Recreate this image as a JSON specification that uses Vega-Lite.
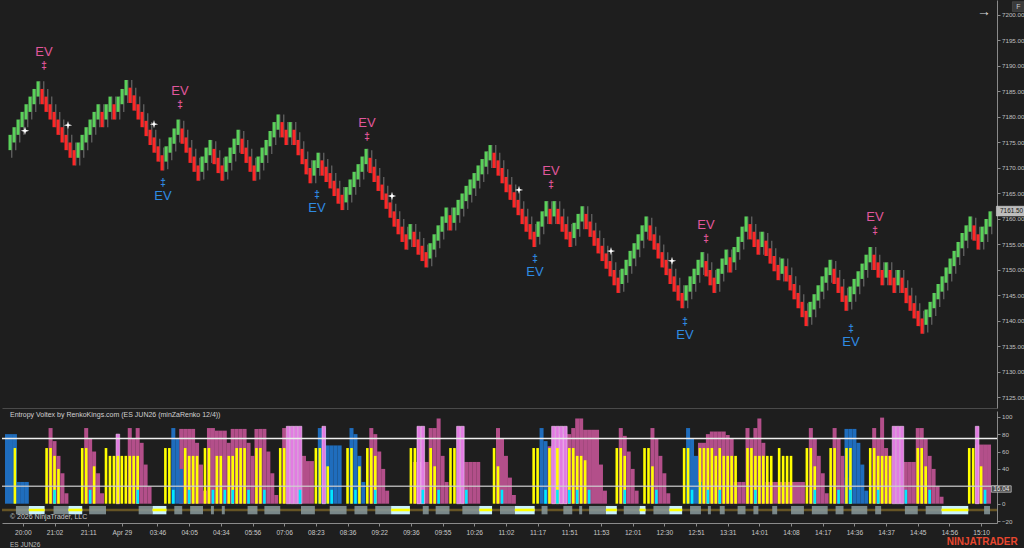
{
"$schema":"https://vega.github.io/schema/vega-lite/v6.json",
"background":"#1e1e1e",
"padding":0,
"spacing":2,
"config":{"view":{"stroke":null},"axis":{"labelFont":"Liberation Sans","grid":false,"labelOverlap":false,"labelBound":false},"text":{"font":"Liberation Sans"}},
"datasets":{
"renko":[
{"i":-2,"m":7175,"d":"u"},{"i":-1,"m":7176.5,"d":"u"},{"i":0,"m":7178,"d":"u"},{"i":1,"m":7179.5,"d":"u"},{"i":2,"m":7181,"d":"u"},{"i":3,"m":7182.5,"d":"u"},{"i":4,"m":7184,"d":"u"},{"i":5,"m":7185.5,"d":"u"},
{"i":6,"m":7184,"d":"d"},{"i":7,"m":7182.5,"d":"d"},{"i":8,"m":7181,"d":"d"},{"i":9,"m":7179.5,"d":"d"},{"i":10,"m":7178,"d":"d"},{"i":11,"m":7176.5,"d":"d"},{"i":12,"m":7175,"d":"d"},{"i":13,"m":7173.5,"d":"d"},{"i":14,"m":7172,"d":"d"},
{"i":15,"m":7173.5,"d":"u"},{"i":16,"m":7175,"d":"u"},{"i":17,"m":7176.5,"d":"u"},{"i":18,"m":7178,"d":"u"},{"i":19,"m":7179.5,"d":"u"},{"i":20,"m":7181,"d":"u"},{"i":21,"m":7179.5,"d":"d"},{"i":22,"m":7181,"d":"u"},{"i":23,"m":7182.5,"d":"u"},{"i":24,"m":7181,"d":"d"},{"i":25,"m":7182.5,"d":"u"},{"i":26,"m":7184,"d":"u"},{"i":27,"m":7185.75,"d":"u"},
{"i":28,"m":7184.25,"d":"d"},{"i":29,"m":7182.75,"d":"d"},{"i":30,"m":7181,"d":"d"},{"i":31,"m":7179.5,"d":"d"},{"i":32,"m":7177.75,"d":"d"},{"i":33,"m":7176,"d":"d"},{"i":34,"m":7174.5,"d":"d"},{"i":35,"m":7172.75,"d":"d"},{"i":36,"m":7171,"d":"d"},
{"i":37,"m":7172.75,"d":"u"},{"i":38,"m":7174.5,"d":"u"},{"i":39,"m":7176.25,"d":"u"},{"i":40,"m":7178,"d":"u"},
{"i":41,"m":7176.25,"d":"d"},{"i":42,"m":7174.5,"d":"d"},{"i":43,"m":7172.5,"d":"d"},{"i":44,"m":7170.75,"d":"d"},{"i":45,"m":7169,"d":"d"},
{"i":46,"m":7170.75,"d":"u"},{"i":47,"m":7172.5,"d":"u"},{"i":48,"m":7174,"d":"u"},
{"i":49,"m":7172.25,"d":"d"},{"i":50,"m":7170.5,"d":"d"},{"i":51,"m":7169,"d":"d"},
{"i":52,"m":7170.75,"d":"u"},{"i":53,"m":7172.5,"d":"u"},{"i":54,"m":7174.25,"d":"u"},{"i":55,"m":7176,"d":"u"},
{"i":56,"m":7174.25,"d":"d"},{"i":57,"m":7172.5,"d":"d"},{"i":58,"m":7170.75,"d":"d"},{"i":59,"m":7169,"d":"d"},
{"i":60,"m":7170.75,"d":"u"},{"i":61,"m":7172.5,"d":"u"},{"i":62,"m":7174,"d":"u"},{"i":63,"m":7175.75,"d":"u"},{"i":64,"m":7177.5,"d":"u"},{"i":65,"m":7179,"d":"u"},
{"i":66,"m":7177.5,"d":"d"},{"i":67,"m":7176,"d":"d"},{"i":68,"m":7177.5,"d":"u"},{"i":69,"m":7176,"d":"d"},{"i":70,"m":7174,"d":"d"},{"i":71,"m":7172.25,"d":"d"},{"i":72,"m":7170.25,"d":"d"},{"i":73,"m":7168.5,"d":"d"},
{"i":74,"m":7170,"d":"u"},{"i":75,"m":7171.5,"d":"u"},
{"i":76,"m":7170,"d":"d"},{"i":77,"m":7168.75,"d":"d"},{"i":78,"m":7167.5,"d":"d"},{"i":79,"m":7166,"d":"d"},{"i":80,"m":7164.5,"d":"d"},{"i":81,"m":7163.25,"d":"d"},
{"i":82,"m":7164.75,"d":"u"},{"i":83,"m":7166.25,"d":"u"},{"i":84,"m":7167.75,"d":"u"},{"i":85,"m":7169.25,"d":"u"},{"i":86,"m":7170.75,"d":"u"},{"i":87,"m":7172.25,"d":"u"},
{"i":88,"m":7170.5,"d":"d"},{"i":89,"m":7168.75,"d":"d"},{"i":90,"m":7167,"d":"d"},{"i":91,"m":7165.25,"d":"d"},{"i":92,"m":7163.5,"d":"d"},{"i":93,"m":7161.75,"d":"d"},{"i":94,"m":7160,"d":"d"},{"i":95,"m":7158.5,"d":"d"},{"i":96,"m":7157,"d":"d"},{"i":97,"m":7155.5,"d":"d"},
{"i":98,"m":7157.5,"d":"u"},{"i":99,"m":7156,"d":"d"},{"i":100,"m":7154.5,"d":"d"},{"i":101,"m":7153.25,"d":"d"},{"i":102,"m":7152,"d":"d"},
{"i":103,"m":7153.75,"d":"u"},{"i":104,"m":7155.5,"d":"u"},{"i":105,"m":7157.25,"d":"u"},{"i":106,"m":7159,"d":"u"},{"i":107,"m":7160.75,"d":"u"},{"i":108,"m":7159.25,"d":"d"},
{"i":109,"m":7160.75,"d":"u"},{"i":110,"m":7162.25,"d":"u"},{"i":111,"m":7163.5,"d":"u"},{"i":112,"m":7165,"d":"u"},{"i":113,"m":7166.25,"d":"u"},{"i":114,"m":7167.5,"d":"u"},{"i":115,"m":7169,"d":"u"},{"i":116,"m":7170.25,"d":"u"},{"i":117,"m":7171.75,"d":"u"},{"i":118,"m":7173,"d":"u"},
{"i":119,"m":7171.5,"d":"d"},{"i":120,"m":7170,"d":"d"},{"i":121,"m":7168.5,"d":"d"},{"i":122,"m":7166.75,"d":"d"},{"i":123,"m":7165.25,"d":"d"},{"i":124,"m":7163.75,"d":"d"},{"i":125,"m":7162.25,"d":"d"},{"i":126,"m":7160.5,"d":"d"},{"i":127,"m":7159,"d":"d"},{"i":128,"m":7157.5,"d":"d"},{"i":129,"m":7156,"d":"d"},
{"i":130,"m":7158,"d":"u"},{"i":131,"m":7160,"d":"u"},{"i":132,"m":7162,"d":"u"},{"i":133,"m":7160.5,"d":"d"},{"i":134,"m":7162,"d":"u"},{"i":135,"m":7160.5,"d":"d"},{"i":136,"m":7159,"d":"d"},{"i":137,"m":7157.5,"d":"d"},{"i":138,"m":7156,"d":"d"},
{"i":139,"m":7157.75,"d":"u"},{"i":140,"m":7159.5,"d":"u"},{"i":141,"m":7161,"d":"u"},
{"i":142,"m":7159.5,"d":"d"},{"i":143,"m":7158,"d":"d"},{"i":144,"m":7156.25,"d":"d"},{"i":145,"m":7154.75,"d":"d"},{"i":146,"m":7153.25,"d":"d"},{"i":147,"m":7151.75,"d":"d"},{"i":148,"m":7150.25,"d":"d"},{"i":149,"m":7148.5,"d":"d"},{"i":150,"m":7147,"d":"d"},
{"i":151,"m":7148.75,"d":"u"},{"i":152,"m":7150.5,"d":"u"},{"i":153,"m":7152.25,"d":"u"},{"i":154,"m":7153.75,"d":"u"},{"i":155,"m":7155.5,"d":"u"},{"i":156,"m":7157.25,"d":"u"},{"i":157,"m":7159,"d":"u"},
{"i":158,"m":7157.25,"d":"d"},{"i":159,"m":7155.5,"d":"d"},{"i":160,"m":7153.75,"d":"d"},{"i":161,"m":7152,"d":"d"},{"i":162,"m":7150.5,"d":"d"},{"i":163,"m":7148.75,"d":"d"},{"i":164,"m":7147.25,"d":"d"},{"i":165,"m":7145.5,"d":"d"},{"i":166,"m":7144,"d":"d"},
{"i":167,"m":7145.5,"d":"u"},{"i":168,"m":7147.25,"d":"u"},{"i":169,"m":7148.75,"d":"u"},{"i":170,"m":7150.5,"d":"u"},{"i":171,"m":7152,"d":"u"},
{"i":172,"m":7150.25,"d":"d"},{"i":173,"m":7148.5,"d":"d"},{"i":174,"m":7147,"d":"d"},
{"i":175,"m":7148.75,"d":"u"},{"i":176,"m":7150.75,"d":"u"},{"i":177,"m":7152.5,"d":"u"},{"i":178,"m":7151,"d":"d"},{"i":179,"m":7153,"d":"u"},{"i":180,"m":7155,"d":"u"},{"i":181,"m":7157,"d":"u"},{"i":182,"m":7159,"d":"u"},
{"i":183,"m":7157.5,"d":"d"},{"i":184,"m":7156,"d":"d"},{"i":185,"m":7154.5,"d":"d"},{"i":186,"m":7156,"d":"u"},{"i":187,"m":7154.25,"d":"d"},{"i":188,"m":7152.75,"d":"d"},{"i":189,"m":7151.25,"d":"d"},{"i":190,"m":7149.5,"d":"d"},{"i":191,"m":7150.75,"d":"u"},
{"i":192,"m":7149.25,"d":"d"},{"i":193,"m":7147.5,"d":"d"},{"i":194,"m":7145.75,"d":"d"},{"i":195,"m":7144,"d":"d"},{"i":196,"m":7142.25,"d":"d"},{"i":197,"m":7140.5,"d":"d"},
{"i":198,"m":7142.25,"d":"u"},{"i":199,"m":7143.75,"d":"u"},{"i":200,"m":7145.5,"d":"u"},{"i":201,"m":7147.25,"d":"u"},{"i":202,"m":7149,"d":"u"},{"i":203,"m":7150.5,"d":"u"},
{"i":204,"m":7148.75,"d":"d"},{"i":205,"m":7147,"d":"d"},{"i":206,"m":7145.25,"d":"d"},{"i":207,"m":7143.5,"d":"d"},
{"i":208,"m":7145.25,"d":"u"},{"i":209,"m":7146.75,"d":"u"},{"i":210,"m":7148.25,"d":"u"},{"i":211,"m":7149.75,"d":"u"},{"i":212,"m":7151.5,"d":"u"},{"i":213,"m":7153,"d":"u"},
{"i":214,"m":7151.5,"d":"d"},{"i":215,"m":7150,"d":"d"},{"i":216,"m":7148.5,"d":"d"},{"i":217,"m":7150,"d":"u"},{"i":218,"m":7148.5,"d":"d"},{"i":219,"m":7147,"d":"d"},{"i":220,"m":7148.5,"d":"u"},{"i":221,"m":7147,"d":"d"},{"i":222,"m":7145,"d":"d"},{"i":223,"m":7143.5,"d":"d"},{"i":224,"m":7142,"d":"d"},{"i":225,"m":7140.5,"d":"d"},{"i":226,"m":7139,"d":"d"},
{"i":227,"m":7140.75,"d":"u"},{"i":228,"m":7142.25,"d":"u"},{"i":229,"m":7144,"d":"u"},{"i":230,"m":7145.75,"d":"u"},{"i":231,"m":7147.25,"d":"u"},{"i":232,"m":7149,"d":"u"},{"i":233,"m":7150.75,"d":"u"},{"i":234,"m":7152.25,"d":"u"},{"i":235,"m":7154,"d":"u"},{"i":236,"m":7155.75,"d":"u"},{"i":237,"m":7157.25,"d":"u"},{"i":238,"m":7159,"d":"u"},
{"i":239,"m":7157.25,"d":"d"},{"i":240,"m":7155.5,"d":"d"},
{"i":241,"m":7157,"d":"u"},{"i":242,"m":7158.5,"d":"u"},{"i":243,"m":7160,"d":"u"}
],
"stars":[{"i":1.75,"pr":7177.3},{"i":12.5,"pr":7178.4},{"i":34,"pr":7178.6},{"i":93.5,"pr":7164.5},{"i":125.25,"pr":7165.7},{"i":148.25,"pr":7153.7},{"i":163.5,"pr":7151.8}],
"ev":[{"i":6.5,"pr":7190,"k":"top"},{"i":40.5,"pr":7182.4,"k":"top"},{"i":87.25,"pr":7176.1,"k":"top"},{"i":133.25,"pr":7166.7,"k":"top"},{"i":172,"pr":7156.1,"k":"top"},{"i":214.25,"pr":7157.6,"k":"top"},
{"i":36.25,"pr":7167.1,"k":"bot"},{"i":74.75,"pr":7164.7,"k":"bot"},{"i":129.25,"pr":7152.2,"k":"bot"},{"i":166.75,"pr":7139.8,"k":"bot"},{"i":208.25,"pr":7138.4,"k":"bot"}],
"ind":[
{"i":-4,"b":80},{"i":-3,"b":80},{"i":-2,"b":80,"y":64},{"i":-1,"b":25},{"i":0,"b":25},{"i":1,"b":25},
{"i":6,"y":64},{"i":7,"y":64,"p":87},{"i":8,"p":72,"y":55,"c":16},{"i":9,"p":55,"y":40},{"i":10,"p":35},{"i":11,"p":12},
{"i":15,"y":64},{"i":16,"y":64,"p":87},{"i":17,"p":75,"c":16},{"i":18,"p":60,"y":43},{"i":19,"p":35},{"i":20,"p":12},
{"i":21,"y":64},{"i":22,"y":55},{"i":23,"y":55},{"i":24,"v":80,"y":55},{"i":25,"y":55},{"i":26,"y":55},{"i":27,"y":55,"p":87},{"i":28,"y":55,"p":75},{"i":29,"y":55,"p":87,"c":16},{"i":30,"p":70},{"i":31,"p":45},{"i":32,"p":20},
{"i":36,"y":64},{"i":37,"y":64},{"i":38,"b":87,"c":16},{"i":39,"b":75},{"i":40,"b":40,"p":86},{"i":41,"p":86,"y":64},{"i":42,"p":86,"y":55,"c":16},{"i":43,"p":86,"y":55},{"i":44,"p":70,"y":55},{"i":45,"p":45},{"i":46,"p":15,"y":64},
{"i":47,"p":87,"y":64},{"i":48,"p":87,"c":16},{"i":49,"p":84,"y":55},{"i":50,"p":84,"y":55},{"i":51,"p":84,"c":16},{"i":52,"p":70,"y":55},{"i":53,"p":86,"y":55,"c":16},{"i":54,"p":86,"y":64},{"i":55,"p":86,"y":64},{"i":56,"p":86,"y":64},{"i":57,"p":70,"c":16},{"i":58,"p":55},{"i":59,"p":86,"y":64},{"i":60,"p":86,"y":64},{"i":61,"p":86,"c":16},{"i":62,"p":60},{"i":63,"p":35},{"i":64,"p":10},
{"i":65,"y":64},{"i":66,"y":64,"p":87},{"i":67,"v":89},{"i":68,"v":89},{"i":69,"v":89},{"i":70,"v":89,"c":16},{"i":71,"p":55},{"i":72,"p":49},{"i":73,"p":49},
{"i":74,"y":64},{"i":75,"y":64,"b":87},{"i":76,"v":89,"b":87},{"i":77,"b":67,"y":43},{"i":78,"b":67,"c":16},{"i":79,"b":67},{"i":80,"b":67},
{"i":82,"y":64},{"i":83,"y":64,"b":87},{"i":84,"b":80,"c":16},{"i":85,"b":55,"y":43},{"i":86,"b":25},
{"i":87,"y":64},{"i":88,"y":64,"p":87},{"i":89,"p":80,"y":55,"c":16},{"i":90,"p":60},{"i":91,"p":40},{"i":92,"p":15},
{"i":98,"y":64},{"i":99,"y":64,"p":48},{"i":100,"v":89,"p":48},{"i":101,"v":89,"p":48,"c":16},{"i":102,"p":48},{"i":103,"p":87,"y":64},{"i":104,"p":87,"y":43},{"i":105,"p":98,"c":16},{"i":106,"p":55},{"i":107,"p":25},
{"i":108,"y":64},{"i":109,"y":64},{"i":110,"v":89},{"i":111,"v":89},{"i":112,"p":48,"c":16},{"i":113,"p":48},{"i":114,"p":48},{"i":115,"p":48},
{"i":119,"y":64},{"i":120,"p":87,"y":43},{"i":121,"p":75,"c":16},{"i":122,"p":55},{"i":123,"p":30},{"i":124,"p":10},
{"i":129,"y":64},{"i":130,"y":64},{"i":131,"b":87},{"i":132,"b":72,"c":16},{"i":133,"y":64,"p":66},{"i":134,"v":89,"p":66},{"i":135,"v":89,"y":64,"c":16},{"i":136,"v":89,"p":80},{"i":137,"v":89,"p":80},{"i":138,"p":80,"y":64,"c":16},{"i":139,"p":87,"y":64},{"i":140,"p":98,"y":55,"c":16},{"i":141,"p":98,"y":55},{"i":142,"p":85,"y":50},{"i":143,"p":85,"c":16},{"i":144,"p":85},{"i":145,"p":85},{"i":146,"p":45},{"i":147,"p":15},
{"i":150,"y":64},{"i":151,"y":64,"p":87},{"i":152,"p":78,"y":55,"c":16},{"i":153,"p":60},{"i":154,"p":40},{"i":155,"p":15},
{"i":157,"y":64},{"i":158,"y":64},{"i":159,"p":87,"y":43},{"i":160,"p":75,"c":16},{"i":161,"p":55},{"i":162,"p":35},{"i":163,"p":12},
{"i":167,"y":64},{"i":168,"y":64,"b":87},{"i":169,"b":75,"c":16},{"i":170,"b":55},{"i":171,"b":25,"y":64,"p":70},{"i":172,"y":64,"p":70},{"i":173,"p":80,"y":64,"c":16},{"i":174,"p":83,"y":64},{"i":175,"p":83,"y":55},{"i":176,"p":83,"y":64,"c":16},{"i":177,"p":83,"y":55},{"i":178,"p":79,"y":55},{"i":179,"p":75,"y":55},{"i":180,"p":25,"y":55},{"i":181,"p":25},{"i":182,"p":25},
{"i":183,"p":87,"y":64},{"i":184,"p":75,"y":64},{"i":185,"p":87,"y":55,"c":16},{"i":186,"p":98,"y":55},{"i":187,"p":70,"y":55},{"i":188,"p":25,"y":55},{"i":189,"p":25,"y":55},{"i":190,"p":25},{"i":191,"p":25,"y":64},{"i":192,"p":25,"y":55},{"i":193,"p":25,"y":55},{"i":194,"p":25,"y":55},{"i":195,"p":25},{"i":196,"p":25},{"i":197,"p":25},
{"i":198,"y":64},{"i":199,"y":64,"p":87},{"i":200,"p":75,"y":43,"c":16},{"i":201,"p":55},{"i":202,"p":35},{"i":203,"p":12},
{"i":204,"y":64},{"i":205,"p":87,"y":64},{"i":206,"p":75,"c":16},{"i":207,"p":55},{"i":208,"p":30,"b":86,"y":64},{"i":209,"b":86,"y":64,"c":16},{"i":210,"b":86},{"i":211,"b":70},{"i":212,"b":45},{"i":213,"b":15},
{"i":214,"y":64},{"i":215,"p":87,"y":64},{"i":216,"p":75,"y":55,"c":16},{"i":217,"p":99,"y":55},{"i":218,"p":64,"y":55},{"i":219,"p":55,"y":55},{"i":220,"v":89},{"i":221,"v":89},{"i":222,"v":89},{"i":223,"p":48,"c":16},{"i":224,"p":48},{"i":225,"p":48},{"i":226,"p":87,"y":64},{"i":227,"p":87,"y":64},{"i":228,"p":75,"y":43},{"i":229,"p":55,"c":16},{"i":230,"p":40},{"i":231,"p":20},{"i":232,"p":8},
{"i":239,"y":64},{"i":240,"y":64},{"i":241,"v":89,"p":68},{"i":242,"p":68,"y":43},{"i":243,"p":68,"c":16},{"i":244,"p":68}
],
"strip":[
{"s":-1.75,"e":1.5,"k":"g"},{"s":1.5,"e":5.5,"k":"c"},{"s":7.75,"e":11.5,"k":"g"},{"s":11.5,"e":15,"k":"c"},{"s":16.75,"e":21,"k":"g"},{"s":29.25,"e":32.75,"k":"g"},{"s":32.75,"e":36.25,"k":"c"},{"s":38.25,"e":40.25,"k":"g"},{"s":42.25,"e":45.5,"k":"g"},{"s":47.5,"e":48.25,"k":"g"},{"s":50.25,"e":51,"k":"g"},{"s":56.75,"e":59.25,"k":"g"},{"s":61,"e":65,"k":"g"},{"s":70.25,"e":73.75,"k":"g"},{"s":77.5,"e":81.75,"k":"g"},{"s":83.75,"e":87,"k":"g"},{"s":89,"e":93,"k":"g"},{"s":93,"e":97.75,"k":"c"},{"s":101,"e":102.5,"k":"g"},{"s":104.25,"e":107.75,"k":"g"},{"s":111,"e":115.25,"k":"g"},{"s":115.25,"e":118.5,"k":"c"},{"s":120.5,"e":124.25,"k":"g"},{"s":124.25,"e":129.25,"k":"c"},{"s":131,"e":132.5,"k":"g"},{"s":136.5,"e":138.75,"k":"g"},{"s":140.5,"e":141.25,"k":"g"},{"s":143,"e":147.25,"k":"g"},{"s":147.25,"e":150,"k":"c"},{"s":151.75,"e":155.75,"k":"g"},{"s":155.75,"e":157.25,"k":"c"},{"s":159.25,"e":163.25,"k":"g"},{"s":163.25,"e":166.5,"k":"c"},{"s":168.5,"e":171.25,"k":"g"},{"s":173,"e":173.75,"k":"g"},{"s":176,"e":177.25,"k":"g"},{"s":180.5,"e":182.5,"k":"g"},{"s":184.5,"e":185.75,"k":"g"},{"s":189.25,"e":190.5,"k":"g"},{"s":194,"e":197.25,"k":"g"},{"s":199.25,"e":203.25,"k":"g"},{"s":205.25,"e":207.25,"k":"g"},{"s":209.25,"e":213.25,"k":"g"},{"s":215.25,"e":216.75,"k":"g"},{"s":222.75,"e":226,"k":"g"},{"s":228,"e":232,"k":"g"},{"s":232,"e":238.75,"k":"c"},{"s":242.75,"e":244.25,"k":"g"}
]
},
"vconcat":[
{
"width":995,"height":408,
"layer":[
{"data":{"name":"renko"},"transform":[{"filter":"datum.d==='u'"}],
 "mark":{"type":"tick","orient":"vertical","thickness":1,"size":23,"yOffset":3.8,"xOffset":1.8,"color":"#767676","opacity":1},
 "encoding":{
  "x":{"field":"i","type":"quantitative","title":null,"scale":{"domain":[-4,244.75],"nice":false,"zero":false},"axis":{"orient":"bottom","labels":false,"ticks":false,"domain":true,"domainColor":"#4a4a4a","title":null}},
  "y":{"field":"m","type":"quantitative","title":null,"scale":{"domain":[7122.94,7202.94],"nice":false,"zero":false},"axis":{"orient":"right","values":[7125,7130,7135,7140,7145,7150,7155,7160,7165,7170,7175,7180,7185,7190,7195,7200],"tickCount":100,"format":".2f","tickSize":3,"labelPadding":1.5,"labelFontSize":6.2,"labelColor":"#c0c0c0","domainColor":"#8a8a8a","tickColor":"#8a8a8a","labelOverlap":false,"title":null}}}},
{"data":{"name":"renko"},"transform":[{"filter":"datum.d==='d'"}],
 "mark":{"type":"tick","orient":"vertical","thickness":1,"size":23,"yOffset":-3.8,"xOffset":1.8,"color":"#767676","opacity":1},
 "encoding":{
  "x":{"field":"i","type":"quantitative","title":null,"scale":{"domain":[-4,244.75],"nice":false,"zero":false}},
  "y":{"field":"m","type":"quantitative","title":null,"scale":{"domain":[7122.94,7202.94],"nice":false,"zero":false}}}},
{"data":{"name":"renko"},"transform":[{"filter":"datum.d==='u'"}],
 "mark":{"type":"tick","orient":"vertical","thickness":3,"size":15.3,"opacity":1,"color":"#5ad25a"},
 "encoding":{
  "x":{"field":"i","type":"quantitative","title":null,"scale":{"domain":[-4,244.75],"nice":false,"zero":false}},
  "y":{"field":"m","type":"quantitative","title":null,"scale":{"domain":[7122.94,7202.94],"nice":false,"zero":false}}}},
{"data":{"name":"renko"},"transform":[{"filter":"datum.d==='d'"}],
 "mark":{"type":"tick","orient":"vertical","thickness":3,"size":15.3,"opacity":1,"color":"#ff2626"},
 "encoding":{
  "x":{"field":"i","type":"quantitative","title":null,"scale":{"domain":[-4,244.75],"nice":false,"zero":false}},
  "y":{"field":"m","type":"quantitative","title":null,"scale":{"domain":[7122.94,7202.94],"nice":false,"zero":false}}}},
{"data":{"name":"stars"},
 "mark":{"type":"point","shape":"M0,-1L0.22,-0.22L1,0L0.22,0.22L0,1L-0.22,0.22L-1,0L-0.22,-0.22Z","size":70,"filled":true,"color":"#ffffff","opacity":1},
 "encoding":{
  "x":{"field":"i","type":"quantitative","title":null,"scale":{"domain":[-4,244.75],"nice":false,"zero":false}},
  "y":{"field":"pr","type":"quantitative","title":null,"scale":{"domain":[7122.94,7202.94],"nice":false,"zero":false}}}},
{"data":{"name":"ev"},"transform":[{"filter":"datum.k==='top'"}],
 "mark":{"type":"text","text":"‡","fontSize":10,"fontWeight":"bold","color":"#e0579c","baseline":"middle","align":"center"},
 "encoding":{
  "x":{"field":"i","type":"quantitative","title":null,"scale":{"domain":[-4,244.75],"nice":false,"zero":false}},
  "y":{"field":"pr","type":"quantitative","title":null,"scale":{"domain":[7122.94,7202.94],"nice":false,"zero":false}}}},
{"data":{"name":"ev"},"transform":[{"filter":"datum.k==='top'"}],
 "mark":{"type":"text","text":"EV","fontSize":13,"dy":-14,"color":"#e0579c","baseline":"middle","align":"center"},
 "encoding":{
  "x":{"field":"i","type":"quantitative","title":null,"scale":{"domain":[-4,244.75],"nice":false,"zero":false}},
  "y":{"field":"pr","type":"quantitative","title":null,"scale":{"domain":[7122.94,7202.94],"nice":false,"zero":false}}}},
{"data":{"name":"ev"},"transform":[{"filter":"datum.k==='bot'"}],
 "mark":{"type":"text","text":"‡","fontSize":10,"fontWeight":"bold","color":"#2f8ae2","baseline":"middle","align":"center"},
 "encoding":{
  "x":{"field":"i","type":"quantitative","title":null,"scale":{"domain":[-4,244.75],"nice":false,"zero":false}},
  "y":{"field":"pr","type":"quantitative","title":null,"scale":{"domain":[7122.94,7202.94],"nice":false,"zero":false}}}},
{"data":{"name":"ev"},"transform":[{"filter":"datum.k==='bot'"}],
 "mark":{"type":"text","text":"EV","fontSize":13,"dy":13,"color":"#2f8ae2","baseline":"middle","align":"center"},
 "encoding":{
  "x":{"field":"i","type":"quantitative","title":null,"scale":{"domain":[-4,244.75],"nice":false,"zero":false}},
  "y":{"field":"pr","type":"quantitative","title":null,"scale":{"domain":[7122.94,7202.94],"nice":false,"zero":false}}}},
{"data":{"values":[{}]},
 "mark":{"type":"text","text":"→","fontSize":14,"color":"#d8d8d8","baseline":"middle","align":"center"},
 "encoding":{
  "x":{"datum":241.5,"type":"quantitative","title":null,"scale":{"domain":[-4,244.75],"nice":false,"zero":false}},
  "y":{"datum":7200.6,"type":"quantitative","title":null,"scale":{"domain":[7122.94,7202.94],"nice":false,"zero":false}}}},
{"data":{"values":[{}]},
 "mark":{"type":"rect","color":"#3a3a3a","stroke":"#5a5a5a","strokeWidth":0.5},
 "encoding":{
  "x":{"datum":248.6,"type":"quantitative","title":null,"scale":{"domain":[-4,244.75],"nice":false,"zero":false}},
  "x2":{"datum":251.6},
  "y":{"datum":7200.7,"type":"quantitative","title":null,"scale":{"domain":[7122.94,7202.94],"nice":false,"zero":false}},
  "y2":{"datum":7202.6}}},
{"data":{"values":[{}]},
 "mark":{"type":"text","text":"F","fontSize":7,"color":"#c8c8c8","baseline":"middle","align":"center"},
 "encoding":{
  "x":{"datum":250.1,"type":"quantitative","title":null,"scale":{"domain":[-4,244.75],"nice":false,"zero":false}},
  "y":{"datum":7201.65,"type":"quantitative","title":null,"scale":{"domain":[7122.94,7202.94],"nice":false,"zero":false}}}},
{"data":{"values":[{}]},
 "mark":{"type":"rect","color":"#bdbdbd","stroke":"#e0e0e0","strokeWidth":0.5},
 "encoding":{
  "x":{"datum":244.6,"type":"quantitative","title":null,"scale":{"domain":[-4,244.75],"nice":false,"zero":false}},
  "x2":{"datum":252},
  "y":{"datum":7160.6,"type":"quantitative","title":null,"scale":{"domain":[7122.94,7202.94],"nice":false,"zero":false}},
  "y2":{"datum":7162.5}}},
{"data":{"values":[{}]},
 "mark":{"type":"text","text":"7161.50","fontSize":6.4,"color":"#151515","baseline":"middle","align":"center"},
 "encoding":{
  "x":{"datum":248.4,"type":"quantitative","title":null,"scale":{"domain":[-4,244.75],"nice":false,"zero":false}},
  "y":{"datum":7161.55,"type":"quantitative","title":null,"scale":{"domain":[7122.94,7202.94],"nice":false,"zero":false}}}}
]
},
{
"width":995,"height":112,
"layer":[
{"data":{"name":"ind"},"transform":[{"filter":"isValid(datum.p)"}],
 "mark":{"type":"bar","width":4,"color":"#b34f8a","opacity":1},
 "encoding":{
  "x":{"field":"i","type":"quantitative","title":null,"scale":{"domain":[-4,244.75],"nice":false,"zero":false},"axis":{"orient":"bottom","values":[0,8,16.5,25,34,42,50,58,66,74,82,90,98,106,114,122,130,138,146,154,162,170,178,186,194,202,210,218,226,234,242],"tickCount":100,"labelExpr":"['20:00','21:02','21:11','Apr 29','03:46','04:05','04:34','05:56','07:06','08:23','08:36','09:22','09:36','09:55','10:26','11:02','11:17','11:51','11:53','12:01','12:30','12:51','13:31','14:01','14:08','14:17','14:36','14:37','14:45','14:56','15:10'][indexof([0,8,16.5,25,34,42,50,58,66,74,82,90,98,106,114,122,130,138,146,154,162,170,178,186,194,202,210,218,226,234,242], datum.value)]","tickSize":3,"labelPadding":3,"labelFontSize":6.6,"labelColor":"#c8c8c8","domainColor":"#8a8a8a","tickColor":"#8a8a8a","labelOverlap":false,"labelFlush":false,"title":null}},
  "y":{"field":"p","type":"quantitative","title":null,"scale":{"domain":[-22.2,106.6],"nice":false,"zero":false},"axis":{"orient":"right","values":[-20,0,20,40,60,80,100],"tickCount":100,"labelExpr":"datum.value == 20 ? '' : datum.label","tickSize":3,"labelPadding":1.5,"labelFontSize":6.2,"labelColor":"#c0c0c0","domainColor":"#8a8a8a","tickColor":"#8a8a8a","labelOverlap":false,"title":null}},
  "y2":{"datum":0}}},
{"data":{"name":"ind"},"transform":[{"filter":"isValid(datum.b)"}],
 "mark":{"type":"bar","width":4,"color":"#1f6dbd","opacity":1},
 "encoding":{
  "x":{"field":"i","type":"quantitative","title":null,"scale":{"domain":[-4,244.75],"nice":false,"zero":false}},
  "y":{"field":"b","type":"quantitative","title":null,"scale":{"domain":[-22.2,106.6],"nice":false,"zero":false}},
  "y2":{"datum":0}}},
{"data":{"name":"ind"},"transform":[{"filter":"isValid(datum.v)"}],
 "mark":{"type":"bar","width":3.6,"color":"#e27ce2","stroke":"#f6c6f6","strokeWidth":0.6,"opacity":1},
 "encoding":{
  "x":{"field":"i","type":"quantitative","title":null,"scale":{"domain":[-4,244.75],"nice":false,"zero":false}},
  "y":{"field":"v","type":"quantitative","title":null,"scale":{"domain":[-22.2,106.6],"nice":false,"zero":false}},
  "y2":{"datum":0}}},
{"data":{"name":"ind"},"transform":[{"filter":"isValid(datum.y)"}],
 "mark":{"type":"bar","width":2.6,"color":"#ffff00","opacity":1},
 "encoding":{
  "x":{"field":"i","type":"quantitative","title":null,"scale":{"domain":[-4,244.75],"nice":false,"zero":false}},
  "y":{"field":"y","type":"quantitative","title":null,"scale":{"domain":[-22.2,106.6],"nice":false,"zero":false}},
  "y2":{"datum":0}}},
{"data":{"name":"ind"},"transform":[{"filter":"isValid(datum.c)"}],
 "mark":{"type":"bar","width":2.6,"color":"#00e8ff","opacity":1},
 "encoding":{
  "x":{"field":"i","type":"quantitative","title":null,"scale":{"domain":[-4,244.75],"nice":false,"zero":false}},
  "y":{"field":"c","type":"quantitative","title":null,"scale":{"domain":[-22.2,106.6],"nice":false,"zero":false}},
  "y2":{"datum":0}}},
{"data":{"values":[{}]},
 "mark":{"type":"rule","color":"#eeeeee","strokeWidth":1.5},
 "encoding":{"y":{"datum":75,"type":"quantitative","title":null,"scale":{"domain":[-22.2,106.6],"nice":false,"zero":false}}}},
{"data":{"values":[{}]},
 "mark":{"type":"rule","color":"#cfcfcf","strokeWidth":1.5,"opacity":0.8},
 "encoding":{"y":{"datum":20,"type":"quantitative","title":null,"scale":{"domain":[-22.2,106.6],"nice":false,"zero":false}}}},
{"data":{"values":[{}]},
 "mark":{"type":"rule","color":"#665425","strokeWidth":2.5},
 "encoding":{"y":{"datum":-7.2,"type":"quantitative","title":null,"scale":{"domain":[-22.2,106.6],"nice":false,"zero":false}}}},
{"data":{"name":"strip"},"transform":[{"filter":"datum.k==='g'"}],
 "mark":{"type":"rect","color":"#8a9a9c","opacity":0.85},
 "encoding":{
  "x":{"field":"s","type":"quantitative","title":null,"scale":{"domain":[-4,244.75],"nice":false,"zero":false}},
  "x2":{"field":"e"},
  "y":{"datum":-2.6,"type":"quantitative","title":null,"scale":{"domain":[-22.2,106.6],"nice":false,"zero":false}},
  "y2":{"datum":-12.2}}},
{"data":{"name":"strip"},"transform":[{"filter":"datum.k==='c'"}],
 "mark":{"type":"rect","color":"#c8f1ff","opacity":1},
 "encoding":{
  "x":{"field":"s","type":"quantitative","title":null,"scale":{"domain":[-4,244.75],"nice":false,"zero":false}},
  "x2":{"field":"e"},
  "y":{"datum":-2.6,"type":"quantitative","title":null,"scale":{"domain":[-22.2,106.6],"nice":false,"zero":false}},
  "y2":{"datum":-12.2}}},
{"data":{"name":"strip"},"transform":[{"filter":"datum.k==='c'"}],
 "mark":{"type":"rect","color":"#ffff00","opacity":1},
 "encoding":{
  "x":{"field":"s","type":"quantitative","title":null,"scale":{"domain":[-4,244.75],"nice":false,"zero":false}},
  "x2":{"field":"e"},
  "y":{"datum":-5.7,"type":"quantitative","title":null,"scale":{"domain":[-22.2,106.6],"nice":false,"zero":false}},
  "y2":{"datum":-8.7}}},
{"data":{"values":[{}]},
 "mark":{"type":"text","text":"Entropy Voltex by RenkoKings.com (ES JUN26 (minZaRenko 12/4))","fontSize":7,"color":"#d0d0d0","baseline":"middle","align":"left"},
 "encoding":{
  "x":{"datum":-3.25,"type":"quantitative","title":null,"scale":{"domain":[-4,244.75],"nice":false,"zero":false}},
  "y":{"datum":102,"type":"quantitative","title":null,"scale":{"domain":[-22.2,106.6],"nice":false,"zero":false}}}},
{"data":{"values":[{}]},
 "mark":{"type":"text","text":"© 2026 NinjaTrader, LLC","fontSize":7,"color":"#c8c8c8","baseline":"middle","align":"left"},
 "encoding":{
  "x":{"datum":-3.25,"type":"quantitative","title":null,"scale":{"domain":[-4,244.75],"nice":false,"zero":false}},
  "y":{"datum":-15.5,"type":"quantitative","title":null,"scale":{"domain":[-22.2,106.6],"nice":false,"zero":false}}}},
{"data":{"values":[{}]},
 "mark":{"type":"text","text":"ES JUN26","fontSize":6.5,"color":"#bdbdbd","baseline":"middle","align":"left"},
 "encoding":{
  "x":{"datum":-3.25,"type":"quantitative","title":null,"scale":{"domain":[-4,244.75],"nice":false,"zero":false}},
  "y":{"datum":-47,"type":"quantitative","title":null,"scale":{"domain":[-22.2,106.6],"nice":false,"zero":false}}}},
{"data":{"values":[{}]},
 "mark":{"type":"text","text":"NINJATRADER","fontSize":10,"fontWeight":"bold","color":"#e8472f","baseline":"middle","align":"right"},
 "encoding":{
  "x":{"datum":251.25,"type":"quantitative","title":null,"scale":{"domain":[-4,244.75],"nice":false,"zero":false}},
  "y":{"datum":-44,"type":"quantitative","title":null,"scale":{"domain":[-22.2,106.6],"nice":false,"zero":false}}}},
{"data":{"values":[{}]},
 "mark":{"type":"rect","color":"#4a4a4a","stroke":"#d0d0d0","strokeWidth":0.7},
 "encoding":{
  "x":{"datum":244.6,"type":"quantitative","title":null,"scale":{"domain":[-4,244.75],"nice":false,"zero":false}},
  "x2":{"datum":249.6},
  "y":{"datum":13.2,"type":"quantitative","title":null,"scale":{"domain":[-22.2,106.6],"nice":false,"zero":false}},
  "y2":{"datum":20.6}}},
{"data":{"values":[{}]},
 "mark":{"type":"text","text":"16.04","fontSize":6.4,"color":"#e6e6e6","baseline":"middle","align":"center"},
 "encoding":{
  "x":{"datum":247.1,"type":"quantitative","title":null,"scale":{"domain":[-4,244.75],"nice":false,"zero":false}},
  "y":{"datum":16.9,"type":"quantitative","title":null,"scale":{"domain":[-22.2,106.6],"nice":false,"zero":false}}}}
]
}
]
}
